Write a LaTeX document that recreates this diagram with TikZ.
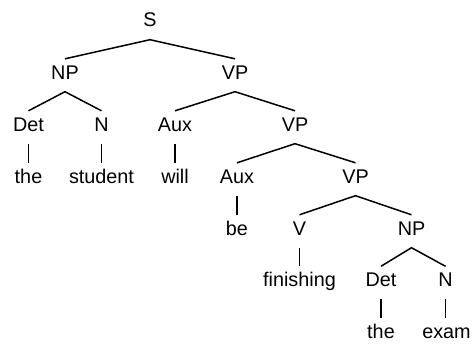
\documentclass[tikz,border=0pt]{standalone}
\usepackage{fontspec}
\setmainfont{Liberation Sans}
\begin{document}
\begin{tikzpicture}[x=1pt,y=-1pt,
  tn/.style={anchor=base,inner sep=0pt,text height=20pt,text depth=12.5pt,
    font=\fontsize{19.8}{24}\selectfont},
  edge/.style={line width=1.5pt,line cap=butt}]
\useasboundingbox[fill=white] (0,0) rectangle (474,345);
% level 0
\node[tn] (S) at (150,27) {S};
% level 1
\node[tn] (NPa) at (65,79) {NP};
\node[tn] (VPa) at (235,79) {VP};
% level 2
\node[tn] (Deta) at (28.5,131) {Det};
\node[tn] (Na) at (101.5,131) {N};
\node[tn] (Auxa) at (175,131) {Aux};
\node[tn] (VPb) at (295,131) {VP};
% level 3
\node[tn] (thea) at (28.5,183) {the};
\node[tn] (student) at (101.5,183) {student};
\node[tn] (will) at (175,183) {will};
\node[tn] (Auxb) at (237,183) {Aux};
\node[tn] (VPc) at (355.5,183) {VP};
% level 4
\node[tn] (be) at (237,235) {be};
\node[tn] (V) at (299.5,235) {V};
\node[tn] (NPb) at (411.5,235) {NP};
% level 5
\node[tn] (finishing) at (299.5,286.5) {finishing};
\node[tn] (Detb) at (381,286.5) {Det};
\node[tn] (Nb) at (445.5,286.5) {N};
% level 6
\node[tn] (theb) at (381,338) {the};
\node[tn] (exam) at (446.5,338) {exam};
% edges
\draw[edge] (NPa.north) -- (S.south) -- (VPa.north);
\draw[edge] (Deta.north) -- (NPa.south) -- (Na.north);
\draw[edge] (Auxa.north) -- (VPa.south) -- (VPb.north);
\draw[edge] (Auxb.north) -- (VPb.south) -- (VPc.north);
\draw[edge] (V.north) -- (VPc.south) -- (NPb.north);
\draw[edge] (Detb.north) -- (NPb.south) -- (Nb.north);
\draw[edge] (Deta.south) -- (thea.north);
\draw[edge] (Na.south) -- (student.north);
\draw[edge] (Auxa.south) -- (will.north);
\draw[edge] (Auxb.south) -- (be.north);
\draw[edge] (V.south) -- (finishing.north);
\draw[edge] (Detb.south) -- (theb.north);
\draw[edge] (Nb.south) -- (Nb.south |- exam.north);
\end{tikzpicture}
\end{document}
